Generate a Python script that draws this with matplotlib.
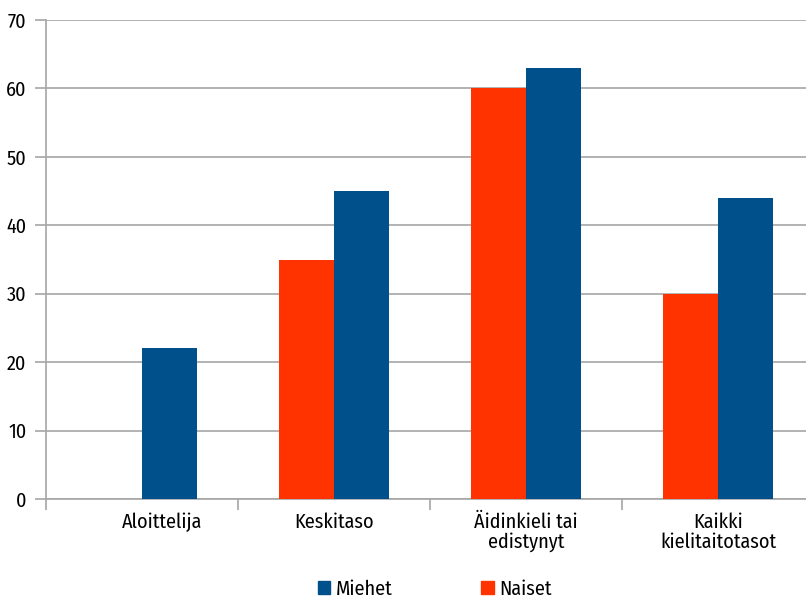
import numpy as np
import matplotlib.pyplot as plt
from matplotlib.patches import Patch
from matplotlib.transforms import ScaledTranslation

categories = ['Aloittelija', 'Keskitaso', 'Äidinkieli tai\nedistynyt', 'Kaikki\nkielitaitotasot']
naiset = [0, 35, 60, 30]
miehet = [22, 45, 63, 44]
yticks = [0, 10, 20, 30, 40, 50, 60, 70]

red = '#FF3300'
blue = '#00508C'
grid_col = '#A6A6A6'

plt.rcParams['font.family'] = ['Fira Sans Condensed', 'PT Sans Narrow', 'Archivo Narrow', 'DejaVu Sans']
fs = 14.5

fig = plt.figure(figsize=(8.06, 6.0), dpi=100)
ax = fig.add_axes([46/806, 101/600, 768/806, 479/600])

x = np.arange(len(categories))
w = 0.286
ax.bar(x - w/2, naiset, w, color=red, zorder=3)
ax.bar(x + w/2, miehet, w, color=blue, zorder=3)

ax.set_xlim(-0.5, len(categories) - 0.5)
ax.set_ylim(0, 70)
ax.set_yticks(yticks)
ax.yaxis.grid(True, color=grid_col, linewidth=1.2, zorder=0)
ax.tick_params(axis='y', length=8, width=1.2, color=grid_col, labelsize=fs, pad=6)

# category ticks between groups, labels centred in groups
ax.set_xticks(np.arange(-0.5, len(categories)), minor=False)
ax.set_xticklabels([])
ax.set_xticks(x, minor=True)
ax.set_xticklabels(categories, minor=True, fontsize=fs, linespacing=1.0)
ax.tick_params(axis='x', which='major', length=8, width=1.2, color=grid_col)
ax.tick_params(axis='x', which='minor', length=0, pad=10)

first = ax.xaxis.get_minorticklabels()[0]
first.set_transform(first.get_transform() + ScaledTranslation(0.2, 0, fig.dpi_scale_trans))

for s in ['top', 'right']:
    ax.spines[s].set_visible(False)
for s in ['left', 'bottom']:
    ax.spines[s].set_color(grid_col)
    ax.spines[s].set_linewidth(1.2)

handles = [Patch(color=blue, label='Miehet'), Patch(color=red, label='Naiset')]
fig.legend(handles=handles, loc='center', bbox_to_anchor=(435/806, 1 - 589/600),
           ncol=2, frameon=False, fontsize=fs, handlelength=0.6, handleheight=0.6,
           handletextpad=0.3, columnspacing=4.4)

fig.savefig('out.png', dpi=100)
